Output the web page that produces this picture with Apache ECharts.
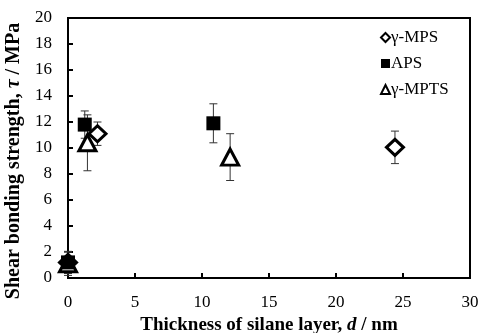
<!DOCTYPE html>
<html lang="en">
<head>
  <meta charset="UTF-8">
  <title>Shear bonding strength</title>
  <script src="https://cdn.jsdelivr.net/npm/echarts@6/dist/echarts.min.js"></script>
  <style>
    html, body { margin: 0; padding: 0; background: #fff; }
  </style>
</head>
<body>
  <div id="main" style="width: 481px; height: 333px;"></div>
  <script type="text/javascript">
    // values
    var xMPS = [0, 2.2, 24.4];
    var yMPS = [1.2, 11.1, 10.05];
    var errMPS = [0.85, 0.9, 1.25];

    var xAPS = [0, 1.25, 10.85];
    var yAPS = [1.2, 11.8, 11.9];
    var errAPS = [0.8, 1.05, 1.5];

    var xMPTS = [0, 1.45, 12.1];
    var yMPTS = [1.1, 10.4, 9.3];
    var errMPTS = [0.9, 2.15, 1.8];

    var xTicks = [0, 5, 10, 15, 20, 25, 30];
    var yTicks = [0, 2, 4, 6, 8, 10, 12, 14, 16, 18, 20];

    var font = "'Times New Roman', 'Liberation Serif', serif";

    function points(xs, ys) {
      return xs.map(function (x, i) { return [x, ys[i]]; });
    }
    function bars(xs, ys, es) {
      return xs.map(function (x, i) { return [x, ys[i] - es[i], ys[i] + es[i]]; });
    }

    // 误差线
    function errorSeries(data) {
      return {
        type: 'custom',
        silent: true,
        z: 1,
        clip: false,
        renderItem: function (params, api) {
          var lo = api.coord([api.value(0), api.value(1)]);
          var hi = api.coord([api.value(0), api.value(2)]);
          var w = 4;
          var st = { stroke: '#333', lineWidth: 1 };
          return {
            type: 'group',
            children: [
              { type: 'line', shape: { x1: lo[0], y1: lo[1], x2: hi[0], y2: hi[1] }, style: st },
              { type: 'line', shape: { x1: lo[0] - w, y1: lo[1], x2: lo[0] + w, y2: lo[1] }, style: st },
              { type: 'line', shape: { x1: hi[0] - w, y1: hi[1], x2: hi[0] + w, y2: hi[1] }, style: st }
            ]
          };
        },
        encode: { x: 0, y: [1, 2] },
        data: data
      };
    }

    function titleRich(size) {
      return {
        b: { fontFamily: font, fontSize: size, fontWeight: 'bold', color: '#000' },
        i: { fontFamily: font, fontSize: size, fontWeight: 'bold', fontStyle: 'italic', color: '#000' }
      };
    }

    var myChart = echarts.init(document.getElementById('main'));

    var option = {
      backgroundColor: '#fff',
      animation: false,
      grid: {
        left: 68, right: 11, top: 18, bottom: 55,
        containLabel: false,
        outerBoundsMode: 'none',
        show: true,
        borderColor: '#000',
        borderWidth: 2
      },
      legend: {
        orient: 'vertical',
        left: 375,
        top: 24,
        itemWidth: 9,
        itemHeight: 9,
        itemGap: 9,
        textStyle: { fontFamily: font, fontSize: 17, color: '#000', padding: [0, 0, 0, -4] },
        data: ['γ-MPS', 'APS', 'γ-MPTS']
      },
      xAxis: {
        type: 'value',
        min: 0,
        max: 30,
        interval: 5,
        name: '{b|Thickness of silane layer, }{i|d}{b| / nm}',
        nameLocation: 'middle',
        nameGap: 38,
        nameTextStyle: { rich: titleRich(19) },
        axisLine: { show: true, lineStyle: { color: '#000', width: 2 } },
        axisTick: { show: true, inside: true, length: 5, lineStyle: { color: '#000', width: 2 } },
        axisLabel: {
          margin: 16,
          fontFamily: font, fontSize: 17, color: '#000',
          formatter: function (v) { return xTicks.indexOf(v) >= 0 ? String(v) : ''; }
        },
        splitLine: { show: false }
      },
      yAxis: {
        type: 'value',
        min: 0,
        max: 20,
        interval: 2,
        name: '{b|Shear bonding strength, }{i|τ}{b| / MPa}',
        nameLocation: 'middle',
        nameGap: 43,
        nameTextStyle: { rich: titleRich(20), padding: [0, 26, 0, 0] },
        axisLine: { show: true, lineStyle: { color: '#000', width: 2 } },
        axisTick: { show: true, inside: true, length: 5, lineStyle: { color: '#000', width: 2 } },
        axisLabel: {
          margin: 16,
          fontFamily: font, fontSize: 17, color: '#000',
          formatter: function (v) { return yTicks.indexOf(v) >= 0 ? String(v) : ''; }
        },
        splitLine: { show: false }
      },
      series: [
        errorSeries(bars(xMPS, yMPS, errMPS)),
        errorSeries(bars(xAPS, yAPS, errAPS)),
        errorSeries(bars(xMPTS, yMPTS, errMPTS)),
        {
          name: 'γ-MPS',
          type: 'scatter',
          symbol: 'diamond',
          symbolSize: [17, 16],
          clip: false,
          z: 3,
          itemStyle: { color: '#fff', borderColor: '#000', borderWidth: 3, opacity: 1 },
          data: points(xMPS, yMPS)
        },
        {
          name: 'APS',
          type: 'scatter',
          symbol: 'rect',
          symbolSize: 14,
          clip: false,
          z: 4,
          itemStyle: { color: '#000', opacity: 1 },
          data: points(xAPS, yAPS)
        },
        {
          name: 'γ-MPTS',
          type: 'scatter',
          symbol: 'triangle',
          symbolSize: [17, 16],
          clip: false,
          z: 3,
          itemStyle: { color: '#fff', borderColor: '#000', borderWidth: 3, opacity: 1 },
          data: points(xMPTS, yMPTS)
        }
      ]
    };

    myChart.setOption(option);
  </script>
</body>
</html>
